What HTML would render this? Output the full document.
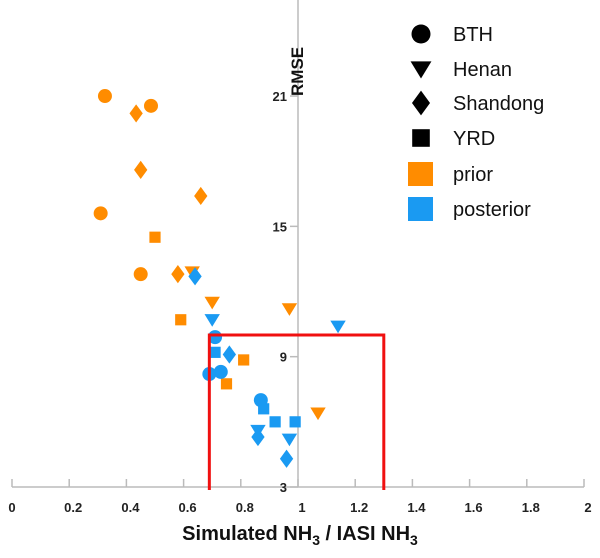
<!DOCTYPE html>
<html><head><meta charset="utf-8"><style>
body{margin:0;background:#fff;font-family:"Liberation Sans",sans-serif}
svg text{font-family:"Liberation Sans",sans-serif}
</style></head><body>
<svg id="c" width="600" height="553"></svg>
<script>
const NS="http://www.w3.org/2000/svg";
const xTicks=[0,0.2,0.4,0.6,0.8,1,1.2,1.4,1.6,1.8,2];
const xTickLabels=["0","0.2","0.4","0.6","0.8","1","1.2","1.4","1.6","1.8","2"];
const yTicks=[3,9,15,21];
const shapes=["circle","circle","circle","circle","diamond","diamond","diamond","diamond","triangle","triangle","triangle","triangle","square","square","square","square",
"diamond","triangle","triangle","circle","square","diamond","circle","circle","circle","square","square","square","triangle","diamond","triangle","diamond"];
const groups=["prior","prior","prior","prior","prior","prior","prior","prior","prior","prior","prior","prior","prior","prior","prior","prior",
"posterior","posterior","posterior","posterior","posterior","posterior","posterior","posterior","posterior","posterior","posterior","posterior","posterior","posterior","posterior","posterior"];
const ratioVals=[0.325,0.486,0.31,0.45,0.434,0.45,0.66,0.58,0.63,0.70,0.97,1.07,0.5,0.59,0.81,0.75,
0.64,0.70,1.14,0.71,0.71,0.76,0.69,0.73,0.87,0.88,0.92,0.99,0.86,0.86,0.97,0.96];
const rmseVals=[21,20.55,15.6,12.8,20.2,17.6,16.4,12.8,12.9,11.5,11.2,6.4,14.5,10.7,8.85,7.75,
12.7,10.7,10.4,9.9,9.2,9.1,8.2,8.3,7.0,6.6,6.0,6.0,5.6,5.3,5.2,4.3];
const box=[0.69,1.3,10.0];
const colors={prior:"#ff8c00",posterior:"#1a9af2"};
const X=v=>12+v*286, Y=v=>487-(v-3)*21.72;
const svg=document.getElementById("c");
function mk(t,a,p){const e=document.createElementNS(NS,t);for(const k in a)e.setAttribute(k,a[k]);(p||svg).appendChild(e);return e;}
function shape(s,cx,cy,col,r){
 if(s==="circle")return mk("circle",{cx,cy,r:r,fill:col});
 if(s==="square")return mk("rect",{x:cx-r*0.8,y:cy-r*0.8,width:r*1.6,height:r*1.6,fill:col});
 if(s==="diamond")return mk("polygon",{points:`${cx},${cy-r*1.3} ${cx+r*0.95},${cy} ${cx},${cy+r*1.3} ${cx-r*0.95},${cy}`,fill:col});
 return mk("polygon",{points:`${cx-r*1.1},${cy-r*0.8} ${cx+r*1.1},${cy-r*0.8} ${cx},${cy+r*1.0}`,fill:col});
}
let e=mk("line",{x1:X(0),x2:X(2),y1:487,y2:487,stroke:"#bbb","stroke-width":1.5});


xTicks.forEach((t,i)=>{
 mk("line",{x1:X(t),x2:X(t),y1:479,y2:487,stroke:"#bbb","stroke-width":1.5});
 const tx=mk("text",{x:X(t)+(t===0?0:4),y:512,"text-anchor":"middle","font-size":13,"font-weight":"bold",fill:"#222"});
 tx.textContent=xTickLabels[i];
 
 
});
e=mk("line",{x1:X(1),x2:X(1),y1:0,y2:487,stroke:"#bbb","stroke-width":1.5});


yTicks.forEach(t=>{
 mk("line",{x1:X(1)-8,x2:X(1),y1:Y(t),y2:Y(t),stroke:"#bbb","stroke-width":1.5});
 const tx=mk("text",{x:X(1)-11,y:Y(t)+5,"text-anchor":"end","font-size":13,"font-weight":"bold",fill:"#222"});
 tx.textContent=t;
 
 
});
e=mk("text",{x:0,y:0,transform:`translate(${X(1)+5},96) rotate(-90)`,"font-size":17,"font-weight":"bold",fill:"#111"});
e.textContent="RMSE";


e=mk("text",{x:300,y:540,"text-anchor":"middle","font-size":20,"font-weight":"bold",fill:"#111"});
e.innerHTML='Simulated NH<tspan font-size="14" dy="5">3</tspan><tspan dy="-5"> / IASI NH</tspan><tspan font-size="14" dy="5">3</tspan>';


ratioVals.forEach((v,i)=>{
 const p=shape(shapes[i],X(v),Y(rmseVals[i]),colors[groups[i]],7);
 
 
});
e=mk("polyline",{points:`${X(box[0])},490 ${X(box[0])},${Y(box[2])} ${X(box[1])},${Y(box[2])} ${X(box[1])},490`,fill:"none",stroke:"#f01010","stroke-width":3});


const legNames=["BTH","Henan","Shandong","YRD","prior","posterior"];
const legShapes=["circle","triangle","diamond","square","bigsq","bigsq"];
const legCols=["#000","#000","#000","#000","#ff8c00","#1a9af2"];
const legY=[34,69,103,138,174,209];
legNames.forEach((n,i)=>{
 const g=mk("g",{});
 
 
 if(legShapes[i]==="bigsq")mk("rect",{x:408,y:legY[i]-12,width:25,height:24,fill:legCols[i]},g);
 else{const s=shape(legShapes[i],421,legY[i],legCols[i],legShapes[i]==="square"?11:9.5);g.appendChild(s);}
 const t=mk("text",{x:453,y:legY[i]+7,"font-size":20,fill:"#111"},g);
 t.textContent=n;
});
</script>
</body></html>
